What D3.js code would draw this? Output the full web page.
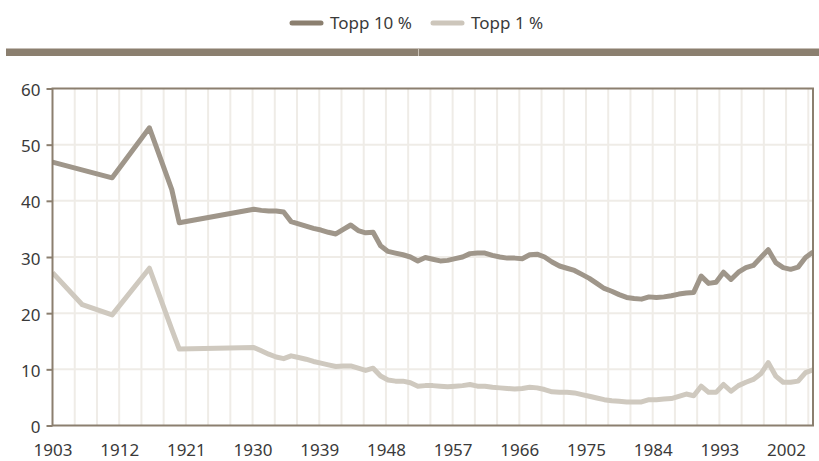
<!DOCTYPE html>
<html>
<head>
<meta charset="utf-8">
<script src="https://cdn.jsdelivr.net/npm/d3@7"></script>
<style>
  body { margin: 0; background: #ffffff; }
  text { font-family: "Noto Sans", "Open Sans", sans-serif; fill: #3a3a3a; }
</style>
</head>
<body>
<div id="canvas"></div>
<script>
"use strict"

/* Data */
let earlyYears = [1903, 1907, 1911, 1916, 1919, 1920];
let top10Early = [46.9, null, 44.1, 53.0, 42.0, 36.1];
let top1Early = [27.2, 21.5, 19.7, 28.0, 17.1, 13.6];

let annualYears = d3.range(1930, 2006);
let top10Annual = [
  38.5, 38.3, 38.2, 38.2, 38.0, 36.3, 35.9, 35.5, 35.1, 34.8,
  34.4, 34.1, 34.9, 35.7, 34.7, 34.3, 34.4, 32.0, 31.0, 30.7,
  30.4, 30.0, 29.3, 29.9, 29.6, 29.3, 29.4, 29.7, 30.0, 30.6,
  30.7, 30.7, 30.3, 30.0, 29.8, 29.8, 29.7, 30.4, 30.5, 30.0,
  29.1, 28.4, 28.0, 27.6, 26.9, 26.2, 25.3, 24.4, 23.9, 23.3,
  22.8, 22.6, 22.5, 22.9, 22.8, 22.9, 23.1, 23.4, 23.6, 23.7,
  26.6, 25.3, 25.5, 27.3, 26.0, 27.3, 28.1, 28.5, 29.9, 31.3,
  29.0, 28.1, 27.8, 28.2, 29.9, 30.9
];
let top1Annual = [
  13.9, 13.3, 12.7, 12.2, 11.9, 12.4, 12.1, 11.8, 11.4, 11.1,
  10.8, 10.5, 10.6, 10.6, 10.2, 9.8, 10.2, 8.8, 8.1, 7.9,
  7.9, 7.6, 7.0, 7.1, 7.1, 7.0, 6.9, 7.0, 7.1, 7.3,
  7.0, 7.0, 6.8, 6.7, 6.6, 6.5, 6.6, 6.8, 6.7, 6.4,
  6.0, 5.9, 5.9, 5.8, 5.5, 5.2, 4.9, 4.6, 4.4, 4.3,
  4.2, 4.2, 4.2, 4.6, 4.6, 4.7, 4.8, 5.2, 5.6, 5.3,
  7.0, 5.9, 5.9, 7.3, 6.1, 7.1, 7.7, 8.2, 9.2, 11.2,
  8.8, 7.7, 7.7, 7.9, 9.4, 9.9
];

let xTicks = [1903, 1912, 1921, 1930, 1939, 1948, 1957, 1966, 1975, 1984, 1993, 2002];
let yTicks = [0, 10, 20, 30, 40, 50, 60];
let seriesNames = ["Topp 10 %", "Topp 1 %"];
let seriesColors = ["#9f968a", "#cfc9bf"];
let legendColors = ["#8b7f6f", "#cdc6bb"];

/* Canvas */
let drawing = d3.select("#canvas")
  .append("svg")
  .attr("width", 819)
  .attr("height", 461);

/* Plot box */
let plotLeft = 52.5;
let plotRight = 813;
let plotTop = 88.5;
let plotBottom = 425.5;

/* Scales: grid/labels use one spacing, the lines another (as in the picture) */
let xAxisScale = d3.scaleLinear().domain([1903, 2005]).range([plotLeft, 808.3]);
let xLineScale = d3.scaleLinear().domain([1903, 2005]).range([plotLeft, plotRight]);
let yScale = d3.scaleLinear().domain([0, 60]).range([plotBottom, plotTop]);

/* Top decoration bar */
let topBar = drawing.append("rect")
  .attr("x", 6)
  .attr("y", 48.5)
  .attr("width", 813)
  .attr("height", 7.5)
  .attr("fill", "#8b7f6f");

let topBarSplit = drawing.append("line")
  .attr("x1", 418.5)
  .attr("x2", 418.5)
  .attr("y1", 48.5)
  .attr("y2", 56)
  .attr("stroke", "#c9c1b6")
  .attr("stroke-width", 1);

/* Legend */
let legend = drawing.append("g");
let legendX = [292, 433];
seriesNames.forEach(function (name, i) {
  legend.append("line")
    .attr("x1", legendX[i])
    .attr("x2", legendX[i] + 29)
    .attr("y1", 23)
    .attr("y2", 23)
    .attr("stroke", legendColors[i])
    .attr("stroke-width", 5)
    .attr("stroke-linecap", "round");
  legend.append("text")
    .attr("x", legendX[i] + 38)
    .attr("y", 28.5)
    .attr("font-size", 17)
    .text(name);
});

/* Vertical gridlines every 3 years */
let gridYears = d3.range(1906, 2006, 3);
drawing.append("g")
  .selectAll("line")
  .data(gridYears)
  .join("line")
  .attr("x1", d => xAxisScale(d))
  .attr("x2", d => xAxisScale(d))
  .attr("y1", plotTop)
  .attr("y2", plotBottom)
  .attr("stroke", "#efece7")
  .attr("stroke-width", 2);

/* Horizontal gridlines */
drawing.append("g")
  .selectAll("line")
  .data(yTicks.filter(d => d > 0 && d < 60))
  .join("line")
  .attr("x1", plotLeft)
  .attr("x2", plotRight)
  .attr("y1", d => yScale(d))
  .attr("y2", d => yScale(d))
  .attr("stroke", "#efece7")
  .attr("stroke-width", 2);

/* Lines */
drawing.append("clipPath")
  .attr("id", "plotClip")
  .append("rect")
  .attr("x", plotLeft)
  .attr("y", 0)
  .attr("width", plotRight - plotLeft)
  .attr("height", 461);

let years = earlyYears.concat(annualYears);
let allSeries = [
  top10Early.concat(top10Annual),
  top1Early.concat(top1Annual)
];

let lineMaker = d3.line()
  .x(d => xLineScale(d[0]))
  .y(d => yScale(d[1]));

// draw the lighter series first so the darker one sits on top
[1, 0].forEach(function (s) {
  let points = years.map((y, i) => [y, allSeries[s][i]]).filter(p => p[1] !== null);
  drawing.append("path")
    .attr("d", lineMaker(points))
    .attr("clip-path", "url(#plotClip)")
    .attr("fill", "none")
    .attr("stroke", seriesColors[s])
    .attr("stroke-width", 5)
    .attr("stroke-linejoin", "round");
});

/* Frame */
let frame = drawing.append("rect")
  .attr("x", plotLeft)
  .attr("y", plotTop)
  .attr("width", plotRight - plotLeft)
  .attr("height", plotBottom - plotTop)
  .attr("fill", "none")
  .attr("stroke", "#8b7f6f")
  .attr("stroke-width", 2);

/* Y axis */
let yAxis = drawing.append("g")
  .attr("transform", "translate(" + plotLeft + ",0)")
  .call(d3.axisLeft(yScale).tickValues(yTicks).tickSize(6).tickPadding(6));
yAxis.select(".domain").remove();
yAxis.selectAll("line").attr("stroke", "#8b7f6f").attr("stroke-width", 2);
yAxis.selectAll("text")
  .attr("font-size", 17)
  .attr("dy", "0.42em")
  .attr("fill", "#3a3a3a");

/* X axis */
let xAxis = drawing.append("g")
  .attr("transform", "translate(0," + plotBottom + ")")
  .call(d3.axisBottom(xAxisScale).tickValues(xTicks).tickFormat(d3.format("d")).tickSize(0).tickPadding(18));
xAxis.select(".domain").remove();
xAxis.selectAll("text")
  .attr("font-size", 17)
  .attr("fill", "#3a3a3a");
</script>
</body>
</html>
